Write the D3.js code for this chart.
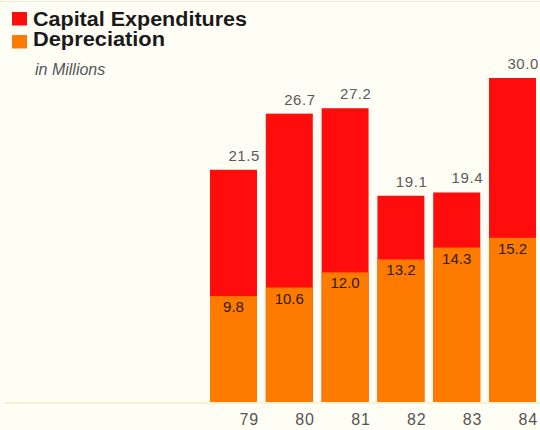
<!DOCTYPE html>
<html>
<head>
<meta charset="utf-8">
<script src="https://cdn.jsdelivr.net/npm/d3@7"></script>
<style>
  html, body { margin: 0; padding: 0; background: #fffef5; }
  svg { display: block; }
</style>
</head>
<body>
<script>
// Capital expenditures vs. depreciation, in millions
const years = ["79", "80", "81", "82", "83", "84"];
const capitalExpenditures = [21.5, 26.7, 27.2, 19.1, 19.4, 30.0];
const depreciation = [9.8, 10.6, 12.0, 13.2, 14.3, 15.2];
const legendLabels = ["Capital Expenditures", "Depreciation"];
const unitLabel = "in Millions";

const W = 540, H = 430;
const RED = "#ff0d0d", ORANGE = "#ff7b00";

const svg = d3.select("body").append("svg")
  .attr("width", W).attr("height", H);

svg.append("rect").attr("width", W).attr("height", H).attr("fill", "#fffef5");

const x = d3.scaleBand().domain(years).range([210, 536])
  .paddingInner(0.158).paddingOuter(0);
const y = d3.scaleLinear().domain([0, 30]).range([402, 78]);

// faint rules at top and along the baseline
svg.append("line").attr("x1", 0).attr("x2", W).attr("y1", 1.5).attr("y2", 1.5)
  .attr("stroke", "#eeeadb").attr("stroke-width", 1);
svg.append("line").attr("x1", 5).attr("x2", W).attr("y1", y(0) + 1).attr("y2", y(0) + 1)
  .attr("stroke", "#f6ecc8").attr("stroke-width", 1.5);

const data = years.map((yr, i) => ({ yr, cap: capitalExpenditures[i], dep: depreciation[i] }));

const g = svg.append("g");

// total capital expenditure bars
g.selectAll("rect.cap").data(data).join("rect")
  .attr("class", "cap")
  .attr("x", d => x(d.yr)).attr("width", x.bandwidth())
  .attr("y", d => y(d.cap)).attr("height", d => y(0) - y(d.cap))
  .attr("fill", RED);

// depreciation bars drawn over the lower part
g.selectAll("rect.dep").data(data).join("rect")
  .attr("class", "dep")
  .attr("x", d => x(d.yr)).attr("width", x.bandwidth())
  .attr("y", d => y(d.dep)).attr("height", d => y(0) - y(d.dep))
  .attr("fill", ORANGE);

const font = "'Liberation Sans', Helvetica, Arial, sans-serif";

// value labels above bars
g.selectAll("text.capv").data(data).join("text")
  .attr("class", "capv")
  .attr("x", d => x(d.yr) + x.bandwidth() + 3)
  .attr("y", d => y(d.cap) - 9)
  .attr("text-anchor", "end")
  .attr("font-family", font).attr("font-size", 15)
  .attr("letter-spacing", 0.6)
  .attr("fill", "#5a5a5a")
  .text(d => d.cap.toFixed(1));

// depreciation labels inside the orange bars
g.selectAll("text.depv").data(data).join("text")
  .attr("class", "depv")
  .attr("x", d => x(d.yr) + x.bandwidth() / 2)
  .attr("y", d => y(d.dep) + 16)
  .attr("text-anchor", "middle")
  .attr("font-family", font).attr("font-size", 15)
  .attr("fill", "#2b1d12")
  .text(d => d.dep.toFixed(1));

// year axis
const xAxis = svg.append("g").attr("transform", `translate(0,${y(0)})`)
  .call(d3.axisBottom(x).tickSize(0).tickPadding(0));
xAxis.select(".domain").remove();
xAxis.selectAll(".tick text")
  .attr("x", x.bandwidth() / 2 + 2)
  .attr("y", 23)
  .attr("dy", 0)
  .attr("text-anchor", "end")
  .attr("font-family", font).attr("font-size", 16)
  .attr("letter-spacing", 0.8)
  .attr("fill", "#555");

// legend
const legend = svg.append("g");
const legendColors = [RED, ORANGE];
const legendWidths = [214, 132];
legendLabels.forEach((lab, i) => {
  legend.append("rect")
    .attr("x", 12).attr("y", 12 + i * 23).attr("width", 15).attr("height", 13.5)
    .attr("fill", legendColors[i]);
  legend.append("text")
    .attr("x", 33).attr("y", 26 + i * 20)
    .attr("font-family", font).attr("font-weight", "bold").attr("font-size", 19.5)
    .attr("textLength", legendWidths[i]).attr("lengthAdjust", "spacingAndGlyphs")
    .attr("fill", "#1a1a1a")
    .text(lab);
});
legend.append("text")
  .attr("x", 35).attr("y", 75)
  .attr("font-family", font).attr("font-style", "italic").attr("font-size", 16)
  .attr("fill", "#555")
  .text(unitLabel);
</script>
</body>
</html>
